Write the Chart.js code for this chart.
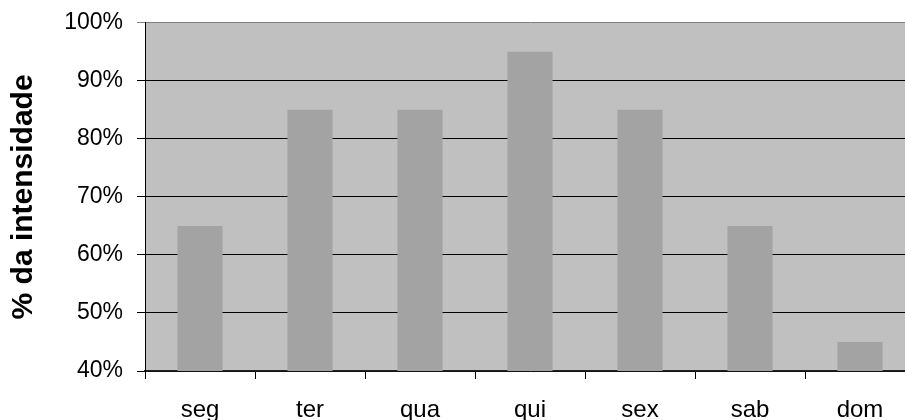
<!DOCTYPE html>
<html lang="pt">
<head>
  <meta charset="UTF-8">
  <title>% da intensidade</title>
  <script src="https://cdn.jsdelivr.net/npm/chart.js"></script>
  <style>
    html, body {
      margin: 0;
      padding: 0;
      overflow: hidden;
      background: #ffffff;
    }
    #wrap {
      width: 920px;
      height: 425px;
      margin-top: -5px;
    }
  </style>
</head>
<body>
  <div id="wrap">
    <canvas id="chart" width="920" height="425"></canvas>
  </div>

  <script>
    const dias = ['seg', 'ter', 'qua', 'qui', 'sex', 'sab', 'dom'];
    const intensidade = [65, 85, 85, 95, 85, 65, 45];
    const yMin = 40;
    const yMax = 100;
    const yStep = 10;

    // fundo cinza da área do gráfico
    const plotBg = {
      id: 'plotBg',
      beforeDraw(chart) {
        const { ctx, chartArea: a } = chart;
        ctx.save();
        ctx.fillStyle = '#c0c0c0';
        ctx.fillRect(a.left, a.top, a.right - a.left, a.bottom - a.top);
        ctx.restore();
      }
    };

    const ctx = document.getElementById('chart').getContext('2d');
    new Chart(ctx, {
      type: 'bar',
      data: {
        labels: dias,
        datasets: [{
          data: intensidade,
          backgroundColor: '#a3a3a3',
          borderWidth: 0,
          categoryPercentage: 1,
          barPercentage: 0.41
        }]
      },
      options: {
        responsive: false,
        animation: false,
        layout: { padding: { top: 17, right: 5, left: 0, bottom: 0 } },
        plugins: {
          legend: { display: false },
          tooltip: { enabled: false }
        },
        scales: {
          x: {
            afterFit(s) { s.height = 49; },
            grid: {
              offset: true,
              drawOnChartArea: false,
              tickLength: 8,
              color: '#000000'
            },
            border: { color: '#222222', width: 1.5 },
            ticks: {
              color: '#000000',
              padding: 17,
              font: { family: 'Liberation Sans, Arial, sans-serif', size: 24 }
            }
          },
          y: {
            min: yMin,
            max: yMax,
            afterFit(s) { s.width = 145; },
            grid: {
              tickLength: 8,
              color: (c) => c.tick && c.tick.value === yMax ? '#808080' : '#000000'
            },
            border: { color: '#000000', width: 1 },
            ticks: {
              stepSize: yStep,
              color: '#000000',
              padding: 14,
              font: { family: 'Liberation Sans, Arial, sans-serif', size: 23 },
              callback: (v) => v + '%'
            },
            title: {
              display: true,
              text: '% da intensidade',
              color: '#000000',
              padding: { top: 6, bottom: 0 },
              font: { family: 'Liberation Sans, Arial, sans-serif', size: 30, weight: 'bold' }
            }
          }
        }
      },
      plugins: [plotBg]
    });
  </script>
</body>
</html>
